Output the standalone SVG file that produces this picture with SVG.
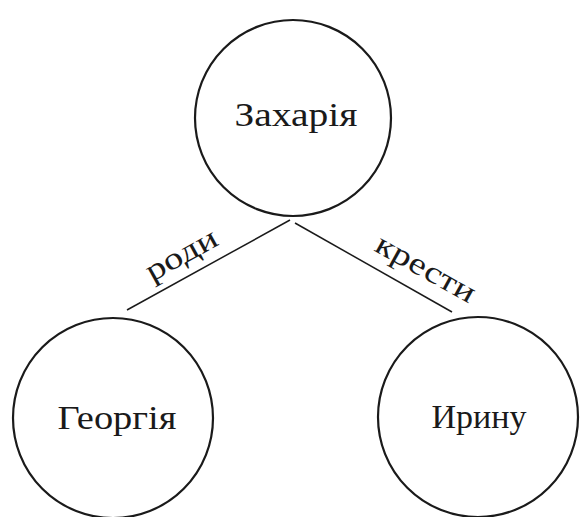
<svg xmlns="http://www.w3.org/2000/svg" width="580" height="517" viewBox="0 0 580 517">
<style>
.node circle{fill:none;stroke:#1a1a1a;stroke-width:2.2}
.t{font-family:"Liberation Serif","DejaVu Serif",serif;font-size:34px;fill:#1a1a1a;text-anchor:middle}
.lbl{font-family:"Liberation Serif","DejaVu Serif",serif;font-size:31px;fill:#1a1a1a;text-anchor:middle}
.edges line{stroke:#1a1a1a;stroke-width:1.5}
</style>
<rect width="580" height="517" fill="#fff"/>
<g id="edges" class="edges">
<line x1="290" y1="220" x2="127" y2="310"/>
<line x1="295" y1="223" x2="452" y2="312"/>
<text class="lbl" transform="translate(186,263) rotate(-29)" textLength="78" lengthAdjust="spacingAndGlyphs">роди</text>
<text class="lbl" transform="translate(421,277) rotate(29)" textLength="110" lengthAdjust="spacingAndGlyphs">крести</text>
</g>
<g id="zakhariia" class="node">
<circle cx="293" cy="118" r="98"/>
<text class="t" x="296" y="126" textLength="123" lengthAdjust="spacingAndGlyphs">Захарія</text>
</g>
<g id="heorhiia" class="node">
<circle cx="113" cy="418" r="100"/>
<text class="t" x="117" y="429" textLength="119" lengthAdjust="spacingAndGlyphs">Георгія</text>
</g>
<g id="irynu" class="node">
<circle cx="478" cy="417" r="100"/>
<text class="t" x="479" y="428" textLength="95" lengthAdjust="spacingAndGlyphs">Ирину</text>
</g>
</svg>
